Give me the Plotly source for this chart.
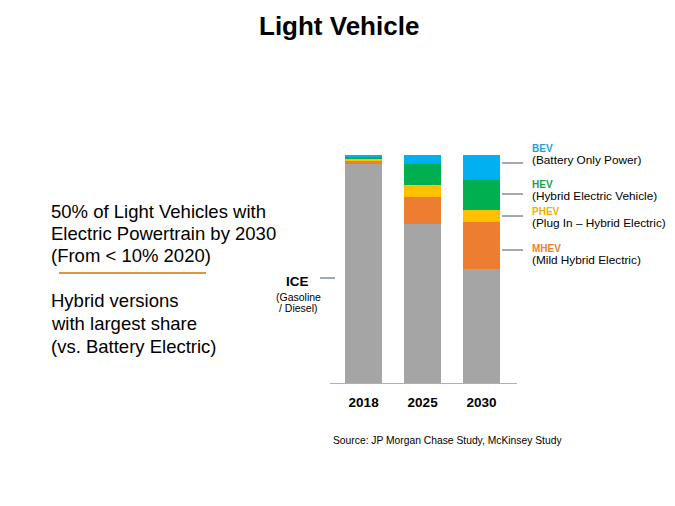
import plotly.graph_objects as go

years = ["2018", "2025", "2030"]
ice = [96.0, 69.6, 50.0]
mhev = [1.6, 11.8, 20.6]
phev = [0.5, 5.3, 5.3]
hev = [1.0, 9.4, 13.1]
bev = [0.9, 3.9, 11.0]

series = [
    ("ICE", ice, "#a5a5a5"),
    ("MHEV", mhev, "#ed7d31"),
    ("PHEV", phev, "#ffc000"),
    ("HEV", hev, "#00b050"),
    ("BEV", bev, "#00b0f0"),
]

W, H = 675, 506
OFF = 8  # page offset of the figure inside the browser window
ML, MT, PW, PH = 322, 147, 187, 228
MR = W - ML - PW
MB = H - MT - PH


def px(x):
    return (x - OFF - ML) / PW


def py(y):
    return (MT + PH - (y - OFF)) / PH


fig = go.Figure()
for name, vals, col in series:
    fig.add_trace(go.Bar(x=[0, 1, 2], y=vals, name=name, marker_color=col,
                         marker_line_width=0, width=0.63))

FONT = "Liberation Sans, Arial, sans-serif"
ann = []


def txt(x, y, s, size, color="#000", bold=False, xanchor="left"):
    ann.append(dict(x=px(x), y=py(y), xref="paper", yref="paper", text=("<b>%s</b>" % s) if bold else s,
                    showarrow=False, xanchor=xanchor, yanchor="middle",
                    font=dict(family=FONT, size=size, color=color)))


txt(339, 26, "Light Vehicle", 26, bold=True, xanchor="center")

left_lines = [("50% of Light Vehicles with", 211), ("Electric Powertrain by 2030", 233),
              ("(From < 10% 2020)", 255), ("Hybrid versions", 300),
              ("with largest share", 323), ("(vs. Battery Electric)", 346)]
for s, y in left_lines:
    txt(48.5, y, s, 18.5)

labels = [("BEV", "(Battery Only Power)", "#1f9fd8", 148.5, 160, 163),
          ("HEV", "(Hybrid Electric Vehicle)", "#17a04a", 184.5, 196, 194),
          ("PHEV", "(Plug In \u2013 Hybrid Electric)", "#f0b000", 211, 222.5, 216),
          ("MHEV", "(Mild Hybrid Electric)", "#ed7d31", 248.5, 260, 250)]
shapes = []
for b, s, c, yb, ys, yl in labels:
    txt(530, yb, b, 10, color=c, bold=True)
    txt(530, ys, s, 11.8, color="#000")
    shapes.append(dict(type="line", xref="paper", yref="paper", x0=px(502), x1=px(523),
                       y0=py(yl), y1=py(yl), line=dict(color="#44546a", width=1)))

txt(297, 281.5, "ICE", 13.5, bold=True, xanchor="center")
txt(298, 297, "(Gasoline", 10.5, xanchor="center")
txt(298, 307.5, "/ Diesel)", 10.5, xanchor="center")
shapes.append(dict(type="line", xref="paper", yref="paper", x0=px(320), x1=px(335),
                   y0=py(278), y1=py(278), line=dict(color="#44546a", width=1)))

shapes.append(dict(type="line", xref="paper", yref="paper", x0=px(59), x1=px(206),
                   y0=py(273), y1=py(273), line=dict(color="#d9964a", width=2)))

txt(331, 440, "Source: JP Morgan Chase Study, McKinsey Study", 10.3)

fig.update_layout(
    width=W, height=H, autosize=False,
    margin=dict(l=ML, r=MR, t=MT, b=MB),
    barmode="stack", showlegend=False,
    plot_bgcolor="white", paper_bgcolor="white",
    annotations=ann, shapes=shapes,
    xaxis=dict(range=[-0.57, 2.6], tickvals=[0, 1, 2], ticktext=["<b>%s</b>" % y for y in years],
               showgrid=False, zeroline=False, showline=True, linecolor="#e2a272", linewidth=1,
               ticks="", tickfont=dict(family=FONT, size=13.5, color="#000"), ticklabelstandoff=7),
    yaxis=dict(range=[0, 100], visible=False, showgrid=False, zeroline=False),
)
fig.write_html("out.html")
